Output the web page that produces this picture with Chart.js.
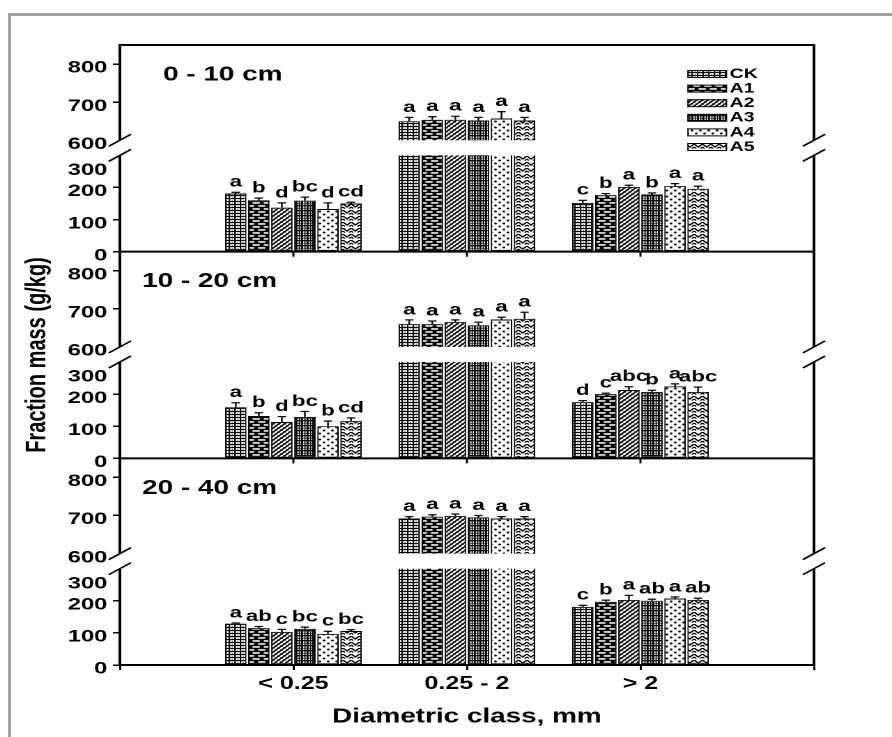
<!DOCTYPE html>
<html>
<head>
<meta charset="utf-8">
<script src="https://cdn.jsdelivr.net/npm/chart.js@4.4.1/dist/chart.umd.min.js"></script>
<style>
  html, body { margin: 0; padding: 0; background: #fff; overflow: hidden; width: 892px; height: 737px; }
  #frame { position: absolute; left: 8px; top: 13px; width: 1000px; height: 1000px;
           border-left: 3px solid #a3a3a3; border-top: 3px solid #a3a3a3; }
  #wrap { position: absolute; left: 0; top: 0; width: 640px; height: 737px;
          transform: scaleX(1.39375); transform-origin: 0 0; }
</style>
</head>
<body>
<div id="frame"></div>
<div id="wrap"><canvas id="c" width="640" height="737"></canvas></div>
<script>
// ---------------- data ----------------
const categories = ['< 0.25', '0.25 - 2', '> 2'];
const treatments = ['CK', 'A1', 'A2', 'A3', 'A4', 'A5'];
const depths = ['0 - 10 cm', '10 - 20 cm', '20 - 40 cm'];
const yTickValues = [0, 100, 200, 300, 600, 700, 800];
const xTitle = 'Diametric class, mm';
const yTitle = 'Fraction mass (g/kg)';

// rows = diametric class (< 0.25, 0.25 - 2, > 2); columns = CK, A1, A2, A3, A4, A5 (g/kg)
const mass0_10  = [[181, 160, 137, 159, 133, 150], [650, 654, 654, 652, 657, 652], [152, 176, 202, 178, 204, 196]];
const err0_10   = [[4, 7, 15, 11, 19, 4], [10, 8, 9, 8, 18, 8], [8, 5, 5, 5, 8, 8]];
const sig0_10   = [['a', 'b', 'd', 'bc', 'd', 'cd'], ['a', 'a', 'a', 'a', 'a', 'a'], ['c', 'b', 'a', 'b', 'a', 'a']];

const mass10_20 = [[159, 132, 113, 129, 100, 116], [660, 660, 665, 657, 672, 674], [175, 200, 213, 207, 224, 207]];
const err10_20  = [[14, 10, 17, 17, 16, 10], [11, 8, 6, 8, 6, 17], [5, 3, 10, 5, 8, 15]];
const sig10_20  = [['a', 'b', 'd', 'bc', 'b', 'cd'], ['a', 'a', 'a', 'a', 'a', 'a'], ['d', 'c', 'abc', 'b', 'a', 'abc']];

const mass20_40 = [[129, 115, 103, 113, 97, 106], [692, 697, 699, 695, 692, 692], [181, 197, 203, 200, 207, 203]];
const err20_40  = [[2, 5, 8, 5, 8, 4], [5, 5, 5, 5, 5, 5], [5, 5, 14, 5, 5, 5]];
const sig20_40  = [['a', 'ab', 'c', 'bc', 'c', 'bc'], ['a', 'a', 'a', 'a', 'a', 'a'], ['c', 'b', 'a', 'ab', 'a', 'ab']];

// ---------------- layout / style constants ----------------
const massByDepth = [mass0_10, mass10_20, mass20_40];
const errByDepth = [err0_10, err10_20, err20_40];
const sigByDepth = [sig0_10, sig10_20, sig20_40];
const axisIds = ['yTop', 'yMid', 'yBot'];
const LOW_MAX = 300, UP_MIN = 600, UP_MAX = 850, LOW_FRAC = 0.466, UP_FRAC = 0.539;
const LOW_LABEL_SHIFT = 11;   // the "300" label sits a little below the break, as in the original
const panelTitleX = [117, 102, 102];
const FONT = "'Liberation Sans', Arial, Helvetica, sans-serif";
Chart.defaults.font.family = FONT;
Chart.defaults.color = '#000';

// ---------------- broken linear scale ----------------
class BrokenScale extends Chart.LinearScale {
  static id = 'broken';
  static defaults = {};
  determineDataLimits() { this.min = 0; this.max = UP_MAX; }
  buildTicks() { return yTickValues.map(v => ({ value: v })); }
  _frac(v) {
    if (v <= LOW_MAX) return v / LOW_MAX * LOW_FRAC;
    if (v >= UP_MIN) return UP_FRAC + (v - UP_MIN) / (UP_MAX - UP_MIN) * (1 - UP_FRAC);
    return LOW_FRAC + (v - LOW_MAX) / (UP_MIN - LOW_MAX) * (UP_FRAC - LOW_FRAC);
  }
  getPixelForValue(v) {
    if (v === null || v === undefined || isNaN(v)) return NaN;
    return this.getPixelForDecimal(this._frac(v));
  }
  getPixelForTick(index) {
    const t = this.ticks[index];
    if (!t) return null;
    const p = this.getPixelForValue(t.value);
    return t.value === LOW_MAX ? p + LOW_LABEL_SHIFT : p;
  }
  getValueForPixel(p) {
    const f = this.getDecimalForPixel(p);
    if (f <= LOW_FRAC) return f / LOW_FRAC * LOW_MAX;
    if (f >= UP_FRAC) return UP_MIN + (f - UP_FRAC) / (1 - UP_FRAC) * (UP_MAX - UP_MIN);
    return LOW_MAX + (f - LOW_FRAC) / (UP_FRAC - LOW_FRAC) * (UP_MIN - LOW_MAX);
  }
}
Chart.register(BrokenScale);

// ---------------- fill patterns ----------------
function makePattern(w, h, draw) {
  const R = 2;
  const c = document.createElement('canvas');
  c.width = w * R; c.height = h * R;
  const g = c.getContext('2d');
  g.scale(R, R);
  g.fillStyle = '#fff'; g.fillRect(0, 0, w, h);
  g.fillStyle = '#000'; g.strokeStyle = '#000';
  draw(g);
  const p = document.getElementById('c').getContext('2d').createPattern(c, 'repeat');
  p.setTransform(new DOMMatrix().scale(1 / R));
  return p;
}
const patterns = [
  makePattern(4, 3, g => { g.fillRect(0, 0, 4, 1.1); g.fillRect(0, 0, 1.1, 3); g.fillRect(2.2, 1.9, 0.8, 0.6); }),
  makePattern(8, 6, g => { g.fillRect(0, 0, 8, 6); g.fillStyle = '#fff';
    g.fillRect(1.2, 1.2, 5.2, 1.5); g.fillRect(5.2, 4.2, 5.2, 1.5); g.fillRect(-2.8, 4.2, 5.2, 1.5); }),
  makePattern(4, 4, g => { g.lineWidth = 1.3; g.beginPath();
    g.moveTo(-1, 1); g.lineTo(1, -1); g.moveTo(0, 4); g.lineTo(4, 0); g.moveTo(3, 5); g.lineTo(5, 3); g.stroke();
    g.lineWidth = 0.5; g.beginPath(); g.moveTo(0, 0); g.lineTo(4, 4); g.stroke(); }),
  makePattern(4, 5, g => { g.fillRect(0, 0, 1.4, 5); g.fillRect(2.4, 0, 0.8, 5); g.fillRect(0, 0, 4, 1.3); g.fillRect(0, 2.9, 4, 0.6); }),
  makePattern(6, 6, g => { g.beginPath(); g.arc(1.5, 1.5, 1.0, 0, 7); g.fill();
    g.beginPath(); g.arc(4.5, 4.5, 1.0, 0, 7); g.fill(); }),
  makePattern(6, 6, g => { g.lineWidth = 1.2; g.beginPath();
    g.moveTo(0, 0); g.lineTo(3, 3); g.lineTo(6, 0); g.moveTo(0, 3); g.lineTo(1.5, 4.5); g.moveTo(6, 3); g.lineTo(4.5, 4.5); g.stroke(); })
];

// ---------------- datasets ----------------
const datasets = [];
depths.forEach((dName, d) => {
  treatments.forEach((tName, t) => {
    datasets.push({
      label: tName,
      stack: tName,
      yAxisID: axisIds[d],
      depthIndex: d,
      treatIndex: t,
      data: [null, ...massByDepth[d].map(row => row[t]), null],
      backgroundColor: patterns[t],
      borderColor: '#000',
      borderWidth: 1,
      borderSkipped: false,
      categoryPercentage: 0.797,
      barPercentage: 0.93
    });
  });
});

function yAxis(withTitle) {
  return {
    type: 'broken', axis: 'y', position: 'left', stack: 'panels', stackWeight: 1, stacked: false,
    afterFit: s => { s.width = 86; },
    border: { display: true, color: '#000', width: 2 },
    grid: { display: true, drawOnChartArea: false, drawTicks: true, tickLength: 5, lineWidth: 1.5,
      tickColor: c => (c.tick && (c.tick.value === LOW_MAX || c.tick.value === UP_MIN)) ? 'rgba(0,0,0,0)' : '#000' },
    ticks: { autoSkip: false, padding: 4, labelOffset: 4, color: '#000',
      font: { size: 17, weight: 'bold' }, callback: v => String(v) },
    title: withTitle
      ? { display: true, text: yTitle, color: '#000', font: { size: 20, weight: 'bold' }, padding: { top: 15, bottom: 0 } }
      : { display: false }
  };
}

// ---------------- decorations plugin ----------------
const panelPlugin = {
  id: 'panelDecor',
  afterDraw(chart) {
    const ctx = chart.ctx, ca = chart.chartArea, xs = chart.scales.x;
    const line = (x1, y1, x2, y2) => { ctx.beginPath(); ctx.moveTo(x1, y1); ctx.lineTo(x2, y2); ctx.stroke(); };
    ctx.save();
    // white break bands
    axisIds.forEach(id => {
      const sc = chart.scales[id];
      const yA = sc.getPixelForValue(UP_MIN), yB = sc.getPixelForValue(LOW_MAX);
      ctx.fillStyle = '#fff';
      ctx.fillRect(ca.left - 3, yA, ca.right - ca.left + 6, yB - yA);
    });
    // frame lines
    ctx.strokeStyle = '#000';
    ctx.lineWidth = 2;
    line(ca.left - 1, ca.top, ca.right + 1, ca.top);
    ['yMid', 'yBot'].forEach(id => { const y = chart.scales[id].top; line(ca.left, y, ca.right, y); });
    axisIds.forEach(id => {
      const sc = chart.scales[id];
      const yA = sc.getPixelForValue(UP_MIN), yB = sc.getPixelForValue(LOW_MAX);
      line(ca.right, sc.top, ca.right, yA);
      line(ca.right, yB, ca.right, sc.bottom);
    });
    // small category ticks under panel separators
    ctx.lineWidth = 1.5;
    ['yMid', 'yBot'].forEach(id => {
      const y = chart.scales[id].top;
      for (let i = 1; i <= categories.length; i++) { const x = xs.getPixelForValue(i); line(x, y, x, y + 5); }
    });
    // break slashes
    ctx.lineWidth = 1.5;
    axisIds.forEach(id => {
      const sc = chart.scales[id];
      [sc.getPixelForValue(UP_MIN), sc.getPixelForValue(LOW_MAX)].forEach(y0 => {
        [ca.left, ca.right].forEach(x0 => line(x0 - 8, y0 + 6, x0 + 8, y0 - 6));
      });
    });
    // error bars + significance letters
    ctx.lineWidth = 1.2;
    ctx.fillStyle = '#000';
    ctx.font = 'bold 16px ' + FONT;
    ctx.textAlign = 'center';
    ctx.textBaseline = 'bottom';
    chart.data.datasets.forEach((ds, di) => {
      const meta = chart.getDatasetMeta(di);
      const sc = chart.scales[ds.yAxisID];
      meta.data.forEach((bar, i) => {
        const v = ds.data[i];
        if (v === null || v === undefined) return;
        const c = i - 1, t = ds.treatIndex, d = ds.depthIndex;
        const yTop = sc.getPixelForValue(v + errByDepth[d][c][t]);
        line(bar.x, bar.y, bar.x, yTop);
        line(bar.x - 3, yTop, bar.x + 3, yTop);
        ctx.fillText(sigByDepth[d][c][t], bar.x, yTop - 2);
      });
    });
    // panel titles
    ctx.font = 'bold 20px ' + FONT;
    ctx.textAlign = 'left';
    ctx.textBaseline = 'middle';
    depths.forEach((name, d) => {
      const sc = chart.scales[axisIds[d]];
      ctx.fillText(name, panelTitleX[d], sc.top + 30);
    });
    // legend
    ctx.font = 'bold 14px ' + FONT;
    ctx.lineWidth = 1;
    treatments.forEach((name, t) => {
      const y = ca.top + 29 + t * 14.6;
      ctx.fillStyle = patterns[t];
      ctx.fillRect(493.6, y - 3.5, 27.6, 7);
      ctx.strokeRect(493.6, y - 3.5, 27.6, 7);
      ctx.fillStyle = '#000';
      ctx.fillText(name, 523.5, y);
    });
    ctx.restore();
  }
};

new Chart(document.getElementById('c'), {
  type: 'bar',
  data: { labels: ['', ...categories, ''], datasets },
  options: {
    responsive: false,
    devicePixelRatio: 2,
    animation: false,
    events: [],
    layout: { padding: { left: 0, top: 45, right: 56, bottom: 0 } },
    plugins: { legend: { display: false }, tooltip: { enabled: false } },
    scales: {
      x: {
        type: 'category', offset: false,
        afterFit: s => { s.height = 72; },
        border: { display: true, color: '#000', width: 2 },
        grid: { display: true, offset: false, drawOnChartArea: false, drawTicks: true, tickLength: 5, color: '#000', lineWidth: 1.5 },
        ticks: { autoSkip: false, maxRotation: 0, minRotation: 0, padding: 3, color: '#000', font: { size: 18, weight: 'bold' } },
        title: { display: true, text: xTitle, color: '#000', font: { size: 20, weight: 'bold' }, padding: { top: 0, bottom: 8 } }
      },
      yBot: yAxis(false),
      yMid: yAxis(true),
      yTop: yAxis(false)
    }
  },
  plugins: [panelPlugin]
});
</script>
</body>
</html>
